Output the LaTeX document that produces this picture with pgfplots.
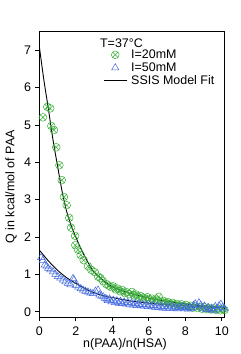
\documentclass[border=0pt]{standalone}
\usepackage{fontspec}
\setmainfont{Liberation Sans}
\usepackage{pgfplots}
\pgfplotsset{compat=1.18}
\definecolor{mgreen}{RGB}{60,175,60}
\definecolor{mblue}{RGB}{65,105,225}
\begin{document}
\fontsize{12.5}{15}\selectfont
\begin{tikzpicture}
\begin{axis}[
 scale only axis, width=185.4bp, height=286bp,
 xmin=0, xmax=10.16, ymin=-0.14, ymax=7.51,
 xtick={0,2,4,6,8,10}, ytick={0,1,2,3,4,5,6,7},
 tick align=outside, xtick pos=bottom, ytick pos=left,
 major tick length=4bp,
 tick style={black, line width=0.6pt},
 axis line style={line width=0.6pt},
 /pgf/number format/assume math mode=true,
 ticklabel style={font=\fontsize{12.5}{15}\selectfont},
 xticklabel style={yshift=-1bp},
 xlabel={n(PAA)/n(HSA)},
 ylabel={Q in kcal/mol of PAA},
 xlabel style={at={(axis description cs:0.462,-0.096)}, anchor=center, font=\fontsize{12.5}{15}\selectfont},
 ylabel style={at={(axis description cs:-0.153,0.455)}, anchor=center, rotate=0, font=\fontsize{12.5}{15}\selectfont},
 legend style={at={(axis description cs:0.345,0.94)}, anchor=north west, draw=none, fill=none, inner sep=0pt, row sep=0pt, font=\fontsize{12.5}{15}\selectfont, nodes={inner sep=1.2bp}},
 legend cell align=left,
 /tikz/every odd column/.append style={column sep=3bp},
 legend image code/.code={\draw[mark repeat=2,mark phase=2,#1] plot coordinates {(0cm,0cm)(0.4cm,0cm)(0.8cm,0cm)};},
 clip=true,
]
\addplot[only marks, mark=otimes, mark size=3.9pt, mgreen, mark options={line width=0.5pt}] coordinates {
(0.20,5.20)(0.44,5.48)(0.60,5.44)(0.66,4.97)(0.80,4.86)(0.93,4.40)(1.10,3.92)(1.23,3.52)
(1.35,3.07)(1.50,2.85)(1.64,2.51)(1.74,2.25)(1.96,2.03)(1.97,1.78)(2.12,1.66)(2.27,1.52)
(2.43,1.38)(2.67,1.22)(2.85,1.12)(3.04,1.06)(3.22,0.94)(3.35,0.90)(3.49,0.82)(3.67,0.74)
(3.80,0.70)(3.93,0.66)(4.05,0.68)(4.18,0.60)(4.30,0.62)(4.42,0.55)(4.55,0.58)(4.68,0.50)
(4.80,0.52)(4.93,0.47)(5.07,0.53)(5.18,0.44)(5.30,0.46)(5.42,0.40)(5.55,0.42)(5.68,0.38)
(5.80,0.36)(5.93,0.39)(6.05,0.33)(6.18,0.35)(6.30,0.30)(6.42,0.32)(6.55,0.40)(6.68,0.27)
(6.80,0.29)(6.93,0.24)(7.05,0.26)(7.18,0.22)(7.30,0.24)(7.42,0.19)(7.55,0.21)(7.68,0.17)
(7.80,0.20)(7.93,0.15)(8.05,0.18)(8.18,0.13)(8.30,0.16)(8.42,0.11)(8.55,0.14)(8.68,0.10)
(8.80,0.13)(8.93,0.08)(9.05,0.12)(9.18,0.07)(9.30,0.10)(9.42,0.06)(9.55,0.09)(9.68,0.05)
(9.80,0.08)(9.93,0.04)(10.05,0.07)(10.15,0.05)
};
\addlegendentry{I=20mM}
\addplot[only marks, mark=triangle, mark size=4.2pt, mblue, mark options={line width=0.5pt}] coordinates {
(0.10,1.45)(0.20,1.38)(0.30,1.25)(0.40,1.22)(0.48,1.16)(0.60,1.12)(0.75,1.07)(0.88,1.00)
(1.02,0.94)(1.15,0.90)(1.30,0.85)(1.43,0.80)(1.57,0.76)(1.70,0.72)(1.85,0.89)(1.90,0.85)
(2.00,0.71)(2.13,0.66)(2.27,0.62)(2.40,0.58)(2.53,0.55)(2.67,0.53)(2.80,0.50)(2.94,0.49)
(3.08,0.55)(3.22,0.58)(3.30,0.45)(3.40,0.42)(3.50,0.40)(3.60,0.36)(3.70,0.34)
(3.75,0.30)(3.85,0.34)(3.95,0.27)(4.05,0.31)(4.15,0.25)(4.25,0.29)(4.35,0.23)(4.45,0.28)
(4.55,0.22)(4.65,0.26)(4.75,0.21)(4.85,0.25)(4.95,0.19)(5.05,0.24)(5.15,0.18)(5.25,0.22)
(5.35,0.17)(5.45,0.21)(5.55,0.16)(5.65,0.20)(5.75,0.15)(5.85,0.19)(5.95,0.14)(6.05,0.18)
(6.15,0.13)(6.25,0.17)(6.35,0.12)(6.45,0.16)(6.55,0.11)(6.65,0.15)(6.75,0.10)(6.85,0.14)
(6.95,0.09)(7.05,0.13)(7.15,0.10)(7.25,0.15)(7.35,0.09)(7.45,0.12)(7.55,0.08)(7.65,0.12)
(7.75,0.10)(7.85,0.14)(7.95,0.08)(8.05,0.11)(8.15,0.07)(8.25,0.12)(8.35,0.09)(8.45,0.17)
(8.55,0.21)(8.65,0.13)(8.75,0.24)(8.85,0.18)(8.95,0.10)(9.05,0.15)(9.15,0.06)(9.25,0.12)
(9.35,0.05)(9.45,0.09)(9.55,0.04)(9.65,0.14)(9.75,0.08)(9.85,0.16)(9.95,0.20)(10.05,0.12)
(10.15,0.08)
};
\addlegendentry{I=50mM}
\addplot[black, line width=0.9pt, smooth, no marks] coordinates {
(0,7.10)(0.25,6.20)(0.5,5.42)(0.75,4.60)(1.0,3.90)(1.25,3.22)(1.5,2.68)(1.75,2.30)
(2.0,2.00)(2.25,1.72)(2.5,1.47)(2.75,1.25)(3.0,1.06)(3.25,0.95)(3.5,0.84)(3.75,0.75)
(4.0,0.67)(4.5,0.57)(5.0,0.49)(5.5,0.43)(6.0,0.37)(6.5,0.32)(7.0,0.28)(7.5,0.24)
(8.0,0.21)(8.5,0.18)(9.0,0.16)(9.5,0.14)(10.0,0.12)(10.2,0.11)
};
\addlegendentry{SSIS Model Fit}
\addplot[black, line width=0.9pt, smooth, no marks, forget plot] coordinates {
(0,1.65)(0.5,1.36)(1.0,1.11)(1.5,0.91)(2.0,0.76)(2.5,0.62)(3.0,0.51)(3.5,0.43)
(4.0,0.38)(5.0,0.29)(6.0,0.23)(7.0,0.19)(8.0,0.16)(9.0,0.13)(10.0,0.11)(10.2,0.10)
};
\node[anchor=west, inner sep=0pt, font=\fontsize{12.5}{15}\selectfont] at (axis description cs:0.327,0.959) {T=37°C};
\node[anchor=center, inner sep=0pt, font=\fontsize{12.5}{15}\selectfont] at (axis description cs:-0.147,1.045) {c)};
\coordinate (bl) at (rel axis cs:0,0);
\end{axis}
\pgfresetboundingbox
\useasboundingbox ([xshift=-39.3bp,yshift=-37bp]bl) rectangle ++(241bp,354bp);
\end{tikzpicture}
\end{document}
